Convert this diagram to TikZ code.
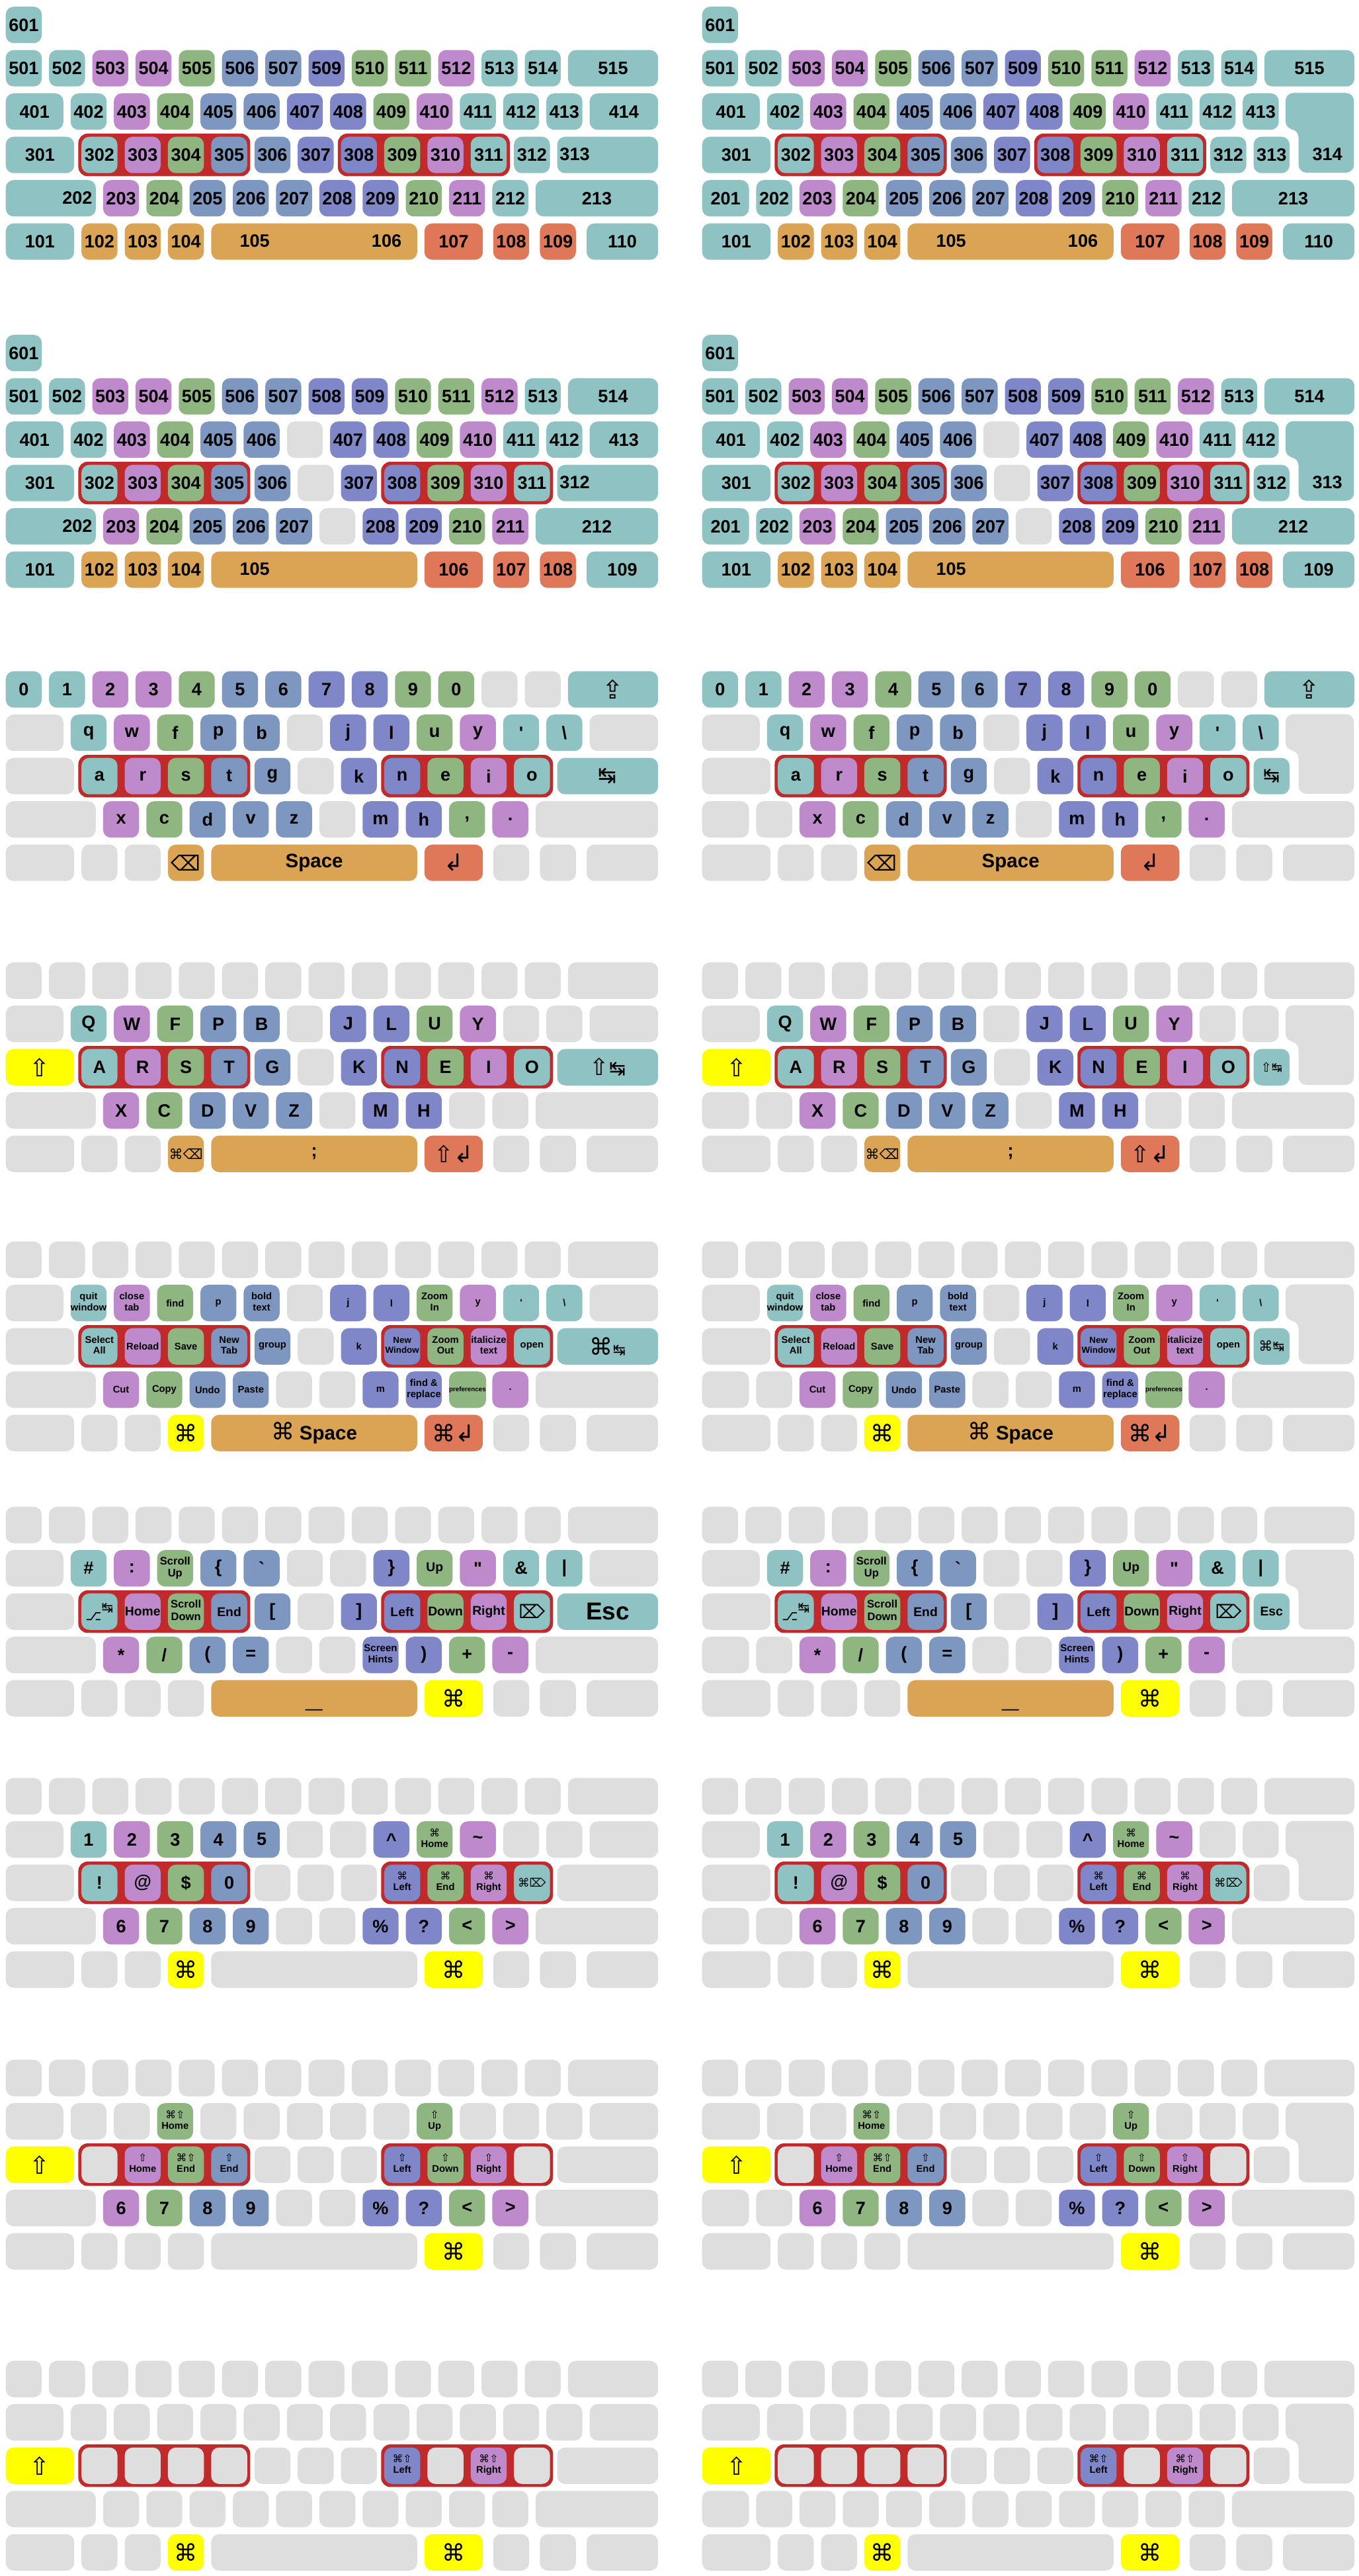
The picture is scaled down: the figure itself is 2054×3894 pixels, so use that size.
\documentclass[tikz,border=0pt]{standalone}
\usepackage{fontspec}
\usepackage{graphicx}
\setmainfont{Liberation Sans}
\newfontfamily\symfont{DejaVu Sans}
\usetikzlibrary{fit, backgrounds}
\definecolor{kteal}{HTML}{8FC2C2}
\definecolor{kpink}{HTML}{BF8ACC}
\definecolor{kgreen}{HTML}{8FB580}
\definecolor{kblue}{HTML}{7E97C0}
\definecolor{kviolet}{HTML}{7F87C8}
\definecolor{korange}{HTML}{DBA455}
\definecolor{kbrick}{HTML}{DE7859}
\definecolor{kgray}{HTML}{DEDEDE}
\definecolor{kyellow}{HTML}{FFFF00}
\definecolor{kbox}{HTML}{C02A2B}
\newcommand\kfs[2]{\fontsize{#1}{#2}\selectfont}
\newcommand\keysym[2]{{\symfont\mdseries\kfs{#1}{#1}#2}}
\newcommand\keyone[1]{{\kfs{4.2}{4.6}#1}}
\newcommand\keytwoat[4]{{\kfs{#1}{#2}\begin{tabular}{@{}c@{}}#3\\#4\end{tabular}}}
\newcommand\keytwo[2]{\keytwoat{4.2}{4.6}{#1}{#2}}
\def\kbx{0}
\def\kby{0}
\tikzset{
  keycap/.style   = {rectangle, rounded corners=3.4pt, anchor=north west,
                     minimum height=0.55cm, inner sep=0pt, align=center,
                     font=\bfseries\kfs{7.7}{8.5}},
  keytag/.style   = {inner sep=0pt, font=\bfseries\kfs{7.7}{8.5}},
  keybox/.style   = {rectangle, rounded corners=4pt, fill=kbox,
                     inner sep=0.04cm},
  keyenter/.style = {rounded corners=3.4pt},
}
% a row of keys: name, row, first column (u), list of width/colour/text
% (a negative width leaves a gap)
\newcommand\kbrow[4]{%
  \xdef\kbpos{#3}%
  \foreach \kw/\kc/\kt [count=\ki] in {#4}{%
    \ifdim\kw pt<0pt\else
      \node[keycap, fill=\kc, minimum width=\kw*0.654cm-0.11cm]
        (#1-\ki) at ({\kbx+\kbpos*65.4}, {\kby+#2*65.5}) {\kt};
    \fi
    \pgfmathsetmacro\kbnext{\kbpos+abs(\kw)}%
    \xdef\kbpos{\kbnext}}}
\newcommand\kbblank[4]{%
  \xdef\kbpos{#3}%
  \foreach \kw [count=\ki] in {#4}{%
    \node[keycap, fill=kgray, minimum width=\kw*0.654cm-0.11cm]
      (#1-\ki) at ({\kbx+\kbpos*65.4}, {\kby+#2*65.5}) {};
    \pgfmathsetmacro\kbnext{\kbpos+\kw}%
    \xdef\kbpos{\kbnext}}}
\newcommand\kblabel[4]{%
  \node[keytag] (#1) at ({\kbx+#2*65.4-5.5}, {\kby+#3*65.5+27.5}) {#4};}
\newcommand\kbenter[1]{%
  \path[keyenter, fill=#1]
    ({\kbx+13.5*65.4}, {\kby+65.5}) -- ({\kbx+15.25*65.4-11}, {\kby+65.5})
    -- ({\kbx+15.25*65.4-11}, {\kby+186}) -- ({\kbx+13.8*65.4}, {\kby+186})
    -- ({\kbx+13.8*65.4}, {\kby+120.5}) -- ({\kbx+13.5*65.4}, {\kby+120.5})
    -- cycle;}
\newcommand\kbgroup[3]{%
  \begin{scope}[on background layer]
    \node[keybox, fit=(#2)(#3)] (#1) {};
  \end{scope}}
\newcommand\kbside[1]{\if L#1\def\kbx{8}\else\def\kbx{1061}\fi}
\newcommand\kbsides[5]{%
  \if L#2
    \kbblank{#1-r1x}{1}{13.5}{1.75}
    \kbrow{#1-r2x}{2}{12.75}{2.5/#3/{#4}}
    \kbblank{#1-r3x}{3}{0}{2.25}
  \else
    \kbenter{kgray}
    \kbrow{#1-r2x}{2}{12.75}{1/#3/{#5}}
    \kbblank{#1-r3x}{3}{0}{1.25,1}
  \fi
  \kbgroup{#1-gl}{#1-r2-2}{#1-r2-5}
  \kbgroup{#1-gr}{#1-r2-9}{#1-r2-12}}

\newcommand\panelone[2]{%
  \kbside{#2}\def\kby{75}%
  \kbrow{#1-r9}{(-1)}{0}{1/kteal/601}
  \kbrow{#1-r0}{0}{0}{1/kteal/501,1/kteal/502,1/kpink/503,1/kpink/504,
    1/kgreen/505,1/kblue/506,1/kblue/507,1/kviolet/509,1/kgreen/510,
    1/kgreen/511,1/kpink/512,1/kteal/513,1/kteal/514,2.25/kteal/515}
  \kbrow{#1-r1}{1}{0}{1.5/kteal/401,1/kteal/402,1/kpink/403,1/kgreen/404,
    1/kblue/405,1/kblue/406,1/kviolet/407,1/kviolet/408,1/kgreen/409,
    1/kpink/410,1/kteal/411,1/kteal/412,1/kteal/413}
  \kbrow{#1-r2}{2}{0}{1.75/kteal/301,1/kteal/302,1/kpink/303,1/kgreen/304,
    1/kblue/305,1/kblue/306,1/kviolet/307,1/kviolet/308,1/kgreen/309,
    1/kpink/310,1/kteal/311,1/kteal/312}
  \kbrow{#1-r3}{3}{2.25}{1/kpink/203,1/kgreen/204,1/kblue/205,1/kblue/206,
    1/kblue/207,1/kviolet/208,1/kviolet/209,1/kgreen/210,1/kpink/211,
    1/kteal/212,3/kteal/213}
  \kbrow{#1-r4}{4}{0}{1.75/kteal/101,1/korange/102,1/korange/103,
    1/korange/104,4.93/korange/{},1.52/kbrick/107,-0.07/kgray/{},
    1/kbrick/108,-0.08/kgray/{},1/kbrick/109,-0.08/kgray/{},1.82/kteal/110}
  \kblabel{#1-t105}{5.85}{4}{105}
  \kblabel{#1-t106}{8.9}{4}{106}
  \if L#2
    \kbrow{#1-r1x}{1}{13.5}{1.75/kteal/414}
    \kbrow{#1-r2x}{2}{12.75}{2.5/kteal/{}}
    \kblabel{#1-t313}{13.25}{2}{313}
    \kbrow{#1-r3x}{3}{0}{2.25/kteal/{}}
    \kblabel{#1-t202}{1.75}{3}{202}
  \else
    \kbenter{kteal}
    \kblabel{#1-t314}{14.55}{2}{314}
    \kbrow{#1-r2x}{2}{12.75}{1/kteal/313}
    \kbrow{#1-r3x}{3}{0}{1.25/kteal/201,1/kteal/202}
  \fi
  \kbgroup{#1-gl}{#1-r2-2}{#1-r2-5}
  \kbgroup{#1-gr}{#1-r2-8}{#1-r2-11}}

\newcommand\paneltwo[2]{%
  \kbside{#2}\def\kby{571}%
  \kbrow{#1-r9}{(-1)}{0}{1/kteal/601}
  \kbrow{#1-r0}{0}{0}{1/kteal/501,1/kteal/502,1/kpink/503,1/kpink/504,
    1/kgreen/505,1/kblue/506,1/kblue/507,1/kviolet/508,1/kviolet/509,
    1/kgreen/510,1/kgreen/511,1/kpink/512,1/kteal/513,2.25/kteal/514}
  \kbrow{#1-r1}{1}{0}{1.5/kteal/401,1/kteal/402,1/kpink/403,1/kgreen/404,
    1/kblue/405,1/kblue/406,1/kgray/{},1/kviolet/407,1/kviolet/408,
    1/kgreen/409,1/kpink/410,1/kteal/411,1/kteal/412}
  \kbrow{#1-r2}{2}{0}{1.75/kteal/301,1/kteal/302,1/kpink/303,1/kgreen/304,
    1/kblue/305,1/kblue/306,1/kgray/{},1/kviolet/307,1/kviolet/308,
    1/kgreen/309,1/kpink/310,1/kteal/311}
  \kbrow{#1-r3}{3}{2.25}{1/kpink/203,1/kgreen/204,1/kblue/205,1/kblue/206,
    1/kblue/207,1/kgray/{},1/kviolet/208,1/kviolet/209,1/kgreen/210,
    1/kpink/211,3/kteal/212}
  \kbrow{#1-r4}{4}{0}{1.75/kteal/101,1/korange/102,1/korange/103,
    1/korange/104,4.93/korange/{},1.52/kbrick/106,-0.07/kgray/{},
    1/kbrick/107,-0.08/kgray/{},1/kbrick/108,-0.08/kgray/{},1.82/kteal/109}
  \kblabel{#1-t105}{5.85}{4}{105}
  \if L#2
    \kbrow{#1-r1x}{1}{13.5}{1.75/kteal/413}
    \kbrow{#1-r2x}{2}{12.75}{2.5/kteal/{}}
    \kblabel{#1-t312}{13.25}{2}{312}
    \kbrow{#1-r3x}{3}{0}{2.25/kteal/{}}
    \kblabel{#1-t202}{1.75}{3}{202}
  \else
    \kbenter{kteal}
    \kblabel{#1-t313}{14.55}{2}{313}
    \kbrow{#1-r2x}{2}{12.75}{1/kteal/312}
    \kbrow{#1-r3x}{3}{0}{1.25/kteal/201,1/kteal/202}
  \fi
  \kbgroup{#1-gl}{#1-r2-2}{#1-r2-5}
  \kbgroup{#1-gr}{#1-r2-9}{#1-r2-12}}

\newcommand\panelthree[2]{%
  \kbside{#2}\def\kby{1014}%
  \kbrow{#1-r0}{0}{0}{1/kteal/0,1/kteal/1,1/kpink/2,1/kpink/3,1/kgreen/4,
    1/kblue/5,1/kblue/6,1/kviolet/7,1/kviolet/8,1/kgreen/9,1/kgreen/0,
    1/kgray/{},1/kgray/{},2.25/kteal/\keysym{11}{⇪}}
  \kbrow{#1-r1}{1}{0}{1.5/kgray/{},1/kteal/q,1/kpink/w,1/kgreen/f,
    1/kblue/p,1/kblue/b,1/kgray/{},1/kviolet/j,1/kviolet/l,1/kgreen/u,
    1/kpink/y,1/kteal/\textquotesingle,1/kteal/\textbackslash}
  \kbrow{#1-r2}{2}{0}{1.75/kgray/{},1/kteal/a,1/kpink/r,1/kgreen/s,
    1/kblue/t,1/kblue/g,1/kgray/{},1/kviolet/k,1/kviolet/n,1/kgreen/e,
    1/kpink/i,1/kteal/o}
  \kbrow{#1-r3}{3}{2.25}{1/kpink/x,1/kgreen/c,1/kblue/d,1/kblue/v,
    1/kblue/z,1/kgray/{},1/kviolet/m,1/kviolet/h,1/kgreen/{,},1/kpink/.,
    3/kgray/{}}
  \kbrow{#1-r4}{4}{0}{1.75/kgray/{},1/kgray/{},1/kgray/{},
    1/korange/\keysym{9}{⌫},4.93/korange/{\kfs{8.4}{9}Space},
    1.52/kbrick/\keysym{10}{↲},-0.07/kgray/{},1/kgray/{},-0.08/kgray/{},
    1/kgray/{},-0.08/kgray/{},1.82/kgray/{}}
  \kbsides{#1}{#2}{kteal}{\keysym{9.5}{↹}}{\keysym{8.5}{↹}}}

\newcommand\panelfour[2]{%
  \kbside{#2}\def\kby{1454}%
  \kbblank{#1-r0}{0}{0}{1,1,1,1,1,1,1,1,1,1,1,1,1,2.25}
  \kbrow{#1-r1}{1}{0}{1.5/kgray/{},1/kteal/Q,1/kpink/W,1/kgreen/F,
    1/kblue/P,1/kblue/B,1/kgray/{},1/kviolet/J,1/kviolet/L,1/kgreen/U,
    1/kpink/Y,1/kgray/{},1/kgray/{}}
  \kbrow{#1-r2}{2}{0}{1.75/kyellow/\keysym{10.5}{⇧},1/kteal/A,1/kpink/R,
    1/kgreen/S,1/kblue/T,1/kblue/G,1/kgray/{},1/kviolet/K,1/kviolet/N,
    1/kgreen/E,1/kpink/I,1/kteal/O}
  \kbrow{#1-r3}{3}{2.25}{1/kpink/X,1/kgreen/C,1/kblue/D,1/kblue/V,
    1/kblue/Z,1/kgray/{},1/kviolet/M,1/kviolet/H,1/kgray/{},1/kgray/{},
    3/kgray/{}}
  \kbrow{#1-r4}{4}{0}{1.75/kgray/{},1/kgray/{},1/kgray/{},
    1/korange/\keysym{6}{⌘⌫},4.93/korange/;,
    1.52/kbrick/\keysym{10}{⇧↲},
    -0.07/kgray/{},1/kgray/{},-0.08/kgray/{},1/kgray/{},-0.08/kgray/{},
    1.82/kgray/{}}
  \kbsides{#1}{#2}{kteal}{\keysym{10}{⇧}\keysym{8.5}{↹}}{\keysym{5.5}{⇧↹}}}

\newcommand\panelfive[2]{%
  \kbside{#2}\def\kby{1876}%
  \kbblank{#1-r0}{0}{0}{1,1,1,1,1,1,1,1,1,1,1,1,1,2.25}
  \kbrow{#1-r1}{1}{0}{1.5/kgray/{},1/kteal/\keytwo{quit}{window},
    1/kpink/\keytwo{close}{tab},1/kgreen/\keyone{find},1/kblue/\keyone{p},
    1/kblue/\keytwo{bold}{text},1/kgray/{},1/kviolet/\keyone{j},
    1/kviolet/\keyone{l},1/kgreen/\keytwo{Zoom}{In},1/kpink/\keyone{y},
    1/kteal/\keyone{\textquotesingle},1/kteal/\keyone{\textbackslash}}
  \kbrow{#1-r2}{2}{0}{1.75/kgray/{},1/kteal/\keytwo{Select}{All},
    1/kpink/\keyone{Reload},1/kgreen/\keyone{Save},1/kblue/\keytwo{New}{Tab},
    1/kblue/\keyone{group},1/kgray/{},1/kviolet/\keyone{k},
    1/kviolet/\keytwoat{3.8}{4.2}{New}{Window},1/kgreen/\keytwo{Zoom}{Out},
    1/kpink/\keytwo{italicize}{text},1/kteal/\keyone{open}}
  \kbrow{#1-r3}{3}{2.25}{1/kpink/\keyone{Cut},1/kgreen/\keyone{Copy},
    1/kblue/\keyone{Undo},1/kblue/\keyone{Paste},1/kgray/{},1/kgray/{},
    1/kviolet/\keyone{m},1/kviolet/\keytwo{find \&}{replace},
    1/kgreen/{\kfs{2.8}{3}preferences},1/kpink/\keyone{.},3/kgray/{}}
  \kbrow{#1-r4}{4}{0}{1.75/kgray/{},1/kgray/{},1/kgray/{},
    1/kyellow/\keysym{10}{⌘},
    4.93/korange/{\keysym{10}{⌘}\ \kfs{8.4}{9}Space},
    1.52/kbrick/\keysym{10}{⌘↲},-0.07/kgray/{},1/kgray/{},-0.08/kgray/{},
    1/kgray/{},-0.08/kgray/{},1.82/kgray/{}}
  \kbsides{#1}{#2}{kteal}{\keysym{10}{⌘}\keysym{6.5}{↹}}{\keysym{6}{⌘↹}}}

\newcommand\panelsix[2]{%
  \kbside{#2}\def\kby{2277}%
  \kbblank{#1-r0}{0}{0}{1,1,1,1,1,1,1,1,1,1,1,1,1,2.25}
  \kbrow{#1-r1}{1}{0}{1.5/kgray/{},1/kteal/\#,1/kpink/:,
    1/kgreen/\keytwoat{4.7}{5.3}{Scroll}{Up},1/kblue/\{,
    1/kblue/\textasciigrave,1/kgray/{},1/kgray/{},1/kviolet/\},
    1/kgreen/{\kfs{5.5}{6}Up},1/kpink/\textquotedbl,1/kteal/\&,1/kteal/|}
  \kbrow{#1-r2}{2}{0}{1.75/kgray/{},
    1/kteal/\keysym{6}{\scalebox{1}[-1]{⌥}↹},
    1/kpink/{\kfs{5.5}{6}Home},1/kgreen/\keytwoat{4.7}{5.3}{Scroll}{Down},
    1/kblue/{\kfs{5.5}{6}End},1/kblue/[,1/kgray/{},1/kviolet/],
    1/kviolet/{\kfs{5.5}{6}Left},1/kgreen/{\kfs{5.5}{6}Down},
    1/kpink/{\kfs{5.5}{6}Right},1/kteal/\keysym{8}{⌦}}
  \kbrow{#1-r3}{3}{2.25}{1/kpink/*,1/kgreen/\slash,1/kblue/(,1/kblue/=,
    1/kgray/{},1/kgray/{},1/kviolet/\keytwoat{4.3}{4.8}{Screen}{Hints},
    1/kviolet/),1/kgreen/+,1/kpink/-,3/kgray/{}}
  \kbrow{#1-r4}{4}{0}{1.75/kgray/{},1/kgray/{},1/kgray/{},1/kgray/{},
    4.93/korange/{\kfs{13}{13}\vphantom{A}\_},1.52/kyellow/\keysym{10}{⌘},
    -0.07/kgray/{},1/kgray/{},-0.08/kgray/{},1/kgray/{},-0.08/kgray/{},
    1.82/kgray/{}}
  \kbsides{#1}{#2}{kteal}{\kfs{10.5}{11}Esc}{\kfs{5.5}{6}Esc}}

\newcommand\panelseven[2]{%
  \kbside{#2}\def\kby{2687}%
  \kbblank{#1-r0}{0}{0}{1,1,1,1,1,1,1,1,1,1,1,1,1,2.25}
  \kbrow{#1-r1}{1}{0}{1.5/kgray/{},1/kteal/1,1/kpink/2,1/kgreen/3,
    1/kblue/4,1/kblue/5,1/kgray/{},1/kgray/{},1/kviolet/\textasciicircum,
    1/kgreen/\keytwo{\keysym{4.5}{⌘}}{Home},1/kpink/\textasciitilde,
    1/kgray/{},1/kgray/{}}
  \kbrow{#1-r2}{2}{0}{1.75/kgray/{},1/kteal/!,1/kpink/@,1/kgreen/\$,
    1/kblue/0,1/kgray/{},1/kgray/{},1/kgray/{},
    1/kviolet/\keytwo{\keysym{4.5}{⌘}}{Left},
    1/kgreen/\keytwo{\keysym{4.5}{⌘}}{End},
    1/kpink/\keytwo{\keysym{4.5}{⌘}}{Right},1/kteal/\keysym{5}{⌘⌦}}
  \kbrow{#1-r3}{3}{2.25}{1/kpink/6,1/kgreen/7,1/kblue/8,1/kblue/9,
    1/kgray/{},1/kgray/{},1/kviolet/\%,1/kviolet/?,1/kgreen/<,1/kpink/>,
    3/kgray/{}}
  \kbrow{#1-r4}{4}{0}{1.75/kgray/{},1/kgray/{},1/kgray/{},
    1/kyellow/\keysym{10}{⌘},4.93/kgray/{},1.52/kyellow/\keysym{10}{⌘},
    -0.07/kgray/{},1/kgray/{},-0.08/kgray/{},1/kgray/{},-0.08/kgray/{},
    1.82/kgray/{}}
  \kbsides{#1}{#2}{kgray}{}{}}

\newcommand\paneleight[2]{%
  \kbside{#2}\def\kby{3113}%
  \kbblank{#1-r0}{0}{0}{1,1,1,1,1,1,1,1,1,1,1,1,1,2.25}
  \kbrow{#1-r1}{1}{0}{1.5/kgray/{},1/kgray/{},1/kgray/{},
    1/kgreen/\keytwo{\keysym{4.5}{⌘⇧}}{Home},1/kgray/{},1/kgray/{},
    1/kgray/{},1/kgray/{},1/kgray/{},1/kgreen/\keytwo{\keysym{4.5}{⇧}}{Up},
    1/kgray/{},1/kgray/{},1/kgray/{}}
  \kbrow{#1-r2}{2}{0}{1.75/kyellow/\keysym{10.5}{⇧},1/kgray/{},
    1/kpink/\keytwo{\keysym{4.5}{⇧}}{Home},
    1/kgreen/\keytwo{\keysym{4.5}{⌘⇧}}{End},
    1/kblue/\keytwo{\keysym{4.5}{⇧}}{End},1/kgray/{},1/kgray/{},1/kgray/{},
    1/kviolet/\keytwo{\keysym{4.5}{⇧}}{Left},
    1/kgreen/\keytwo{\keysym{4.5}{⇧}}{Down},
    1/kpink/\keytwo{\keysym{4.5}{⇧}}{Right},1/kgray/{}}
  \kbrow{#1-r3}{3}{2.25}{1/kpink/6,1/kgreen/7,1/kblue/8,1/kblue/9,
    1/kgray/{},1/kgray/{},1/kviolet/\%,1/kviolet/?,1/kgreen/<,1/kpink/>,
    3/kgray/{}}
  \kbrow{#1-r4}{4}{0}{1.75/kgray/{},1/kgray/{},1/kgray/{},1/kgray/{},
    4.93/kgray/{},1.52/kyellow/\keysym{10}{⌘},-0.07/kgray/{},1/kgray/{},
    -0.08/kgray/{},1/kgray/{},-0.08/kgray/{},1.82/kgray/{}}
  \kbsides{#1}{#2}{kgray}{}{}}

\newcommand\panelnine[2]{%
  \kbside{#2}\def\kby{3568}%
  \kbblank{#1-r0}{0}{0}{1,1,1,1,1,1,1,1,1,1,1,1,1,2.25}
  \kbblank{#1-r1}{1}{0}{1.5,1,1,1,1,1,1,1,1,1,1,1,1}
  \kbrow{#1-r2}{2}{0}{1.75/kyellow/\keysym{10.5}{⇧},1/kgray/{},1/kgray/{},
    1/kgray/{},1/kgray/{},1/kgray/{},1/kgray/{},1/kgray/{},
    1/kviolet/\keytwo{\keysym{4.5}{⌘⇧}}{Left},1/kgray/{},
    1/kpink/\keytwo{\keysym{4.5}{⌘⇧}}{Right},1/kgray/{}}
  \kbblank{#1-r3}{3}{2.25}{1,1,1,1,1,1,1,1,1,1,3}
  \kbrow{#1-r4}{4}{0}{1.75/kgray/{},1/kgray/{},1/kgray/{},
    1/kyellow/\keysym{10}{⌘},4.93/kgray/{},1.52/kyellow/\keysym{10}{⌘},
    -0.07/kgray/{},1/kgray/{},-0.08/kgray/{},1/kgray/{},-0.08/kgray/{},
    1.82/kgray/{}}
  \kbsides{#1}{#2}{kgray}{}{}}

\begin{document}
\begin{tikzpicture}[x=0.01cm, y=-0.01cm]
  \useasboundingbox (0,0) rectangle (2054,3894);
  \panelone{p1L}{L}
  \panelone{p1R}{R}
  \paneltwo{p2L}{L}
  \paneltwo{p2R}{R}
  \panelthree{p3L}{L}
  \panelthree{p3R}{R}
  \panelfour{p4L}{L}
  \panelfour{p4R}{R}
  \panelfive{p5L}{L}
  \panelfive{p5R}{R}
  \panelsix{p6L}{L}
  \panelsix{p6R}{R}
  \panelseven{p7L}{L}
  \panelseven{p7R}{R}
  \paneleight{p8L}{L}
  \paneleight{p8R}{R}
  \panelnine{p9L}{L}
  \panelnine{p9R}{R}
\end{tikzpicture}
\end{document}
